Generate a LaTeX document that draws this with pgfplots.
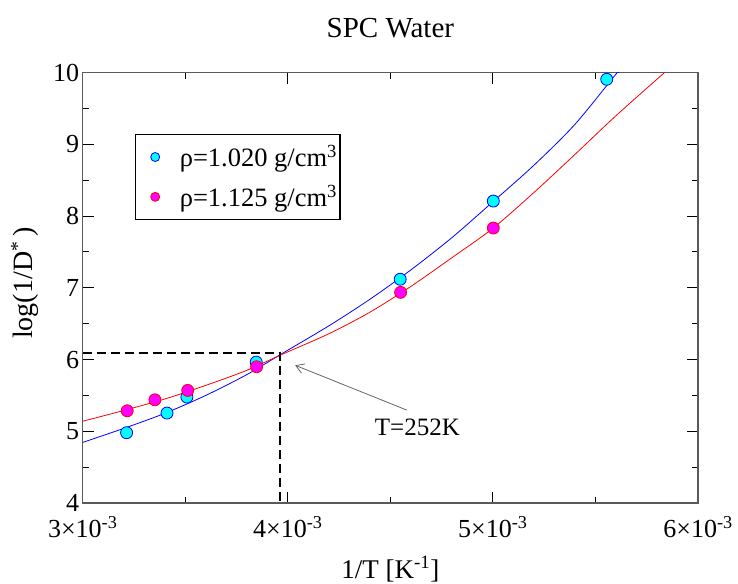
\documentclass[border=0pt]{standalone}
\usepackage{fontspec}
\setmainfont{Liberation Serif}
\usepackage{pgfplots}
\pgfplotsset{compat=1.18}
\usetikzlibrary{arrows.meta}
\definecolor{mycyan}{RGB}{0,255,255}
\definecolor{mymagenta}{RGB}{255,0,255}
\definecolor{myblue}{RGB}{0,0,255}
\definecolor{myred}{RGB}{255,0,0}
\begin{document}
\begin{tikzpicture}
\begin{axis}[
  scale only axis, width=615.3pt, height=430.3pt,
  xmin=0.003, xmax=0.006, ymin=4, ymax=10,
  xtick={0.003,0.004,0.005,0.006},
  xticklabels={3×10\textsuperscript{-3}, 4×10\textsuperscript{-3}, 5×10\textsuperscript{-3}, 6×10\textsuperscript{-3}},
  scaled x ticks=false,
  ytick={4,5,6,7,8,9,10},
  minor x tick num=1, minor y tick num=1,
  tick align=inside,
  major tick length=11pt, minor tick length=6.5pt,
  axis line style={black!65, line width=1.2pt},
  every tick/.style={black, line width=1pt},
  ticklabel style={font=\fontsize{26}{31}\selectfont},
  xticklabel style={yshift=-10pt},
  yticklabel style={/pgf/number format/assume math mode=true},
  legend style={at={(0.085,0.8575)}, anchor=north west, draw=black, line width=1.2pt,
    font=\fontsize{26.5}{31}\selectfont, row sep=13pt, inner xsep=1pt, inner ysep=9pt},
  legend cell align=left,
  legend image code/.code={%
    \draw[mark repeat=2,mark phase=2,#1,mark size=4.5pt] plot coordinates {(0pt,0pt) (18pt,0pt) (36pt,0pt)};
    \path (0pt,0pt) (40pt,0pt);},
  clip=true,
]
\coordinate (sw) at (rel axis cs:0,0);
\coordinate (ne) at (rel axis cs:1,1);
\coordinate (tt) at (rel axis cs:0.5,1);
\coordinate (bb) at (rel axis cs:0.5,0);
\coordinate (ll) at (rel axis cs:0,0.511);

% fit curves
\addplot[myblue, line width=0.8pt, smooth, forget plot] coordinates {
(0.0030,4.845) (0.0032,5.04) (0.0034,5.25) (0.0036,5.50) (0.0038,5.79)
(0.00397,6.08) (0.0042,6.47) (0.0044,6.84) (0.0046,7.25) (0.0048,7.70)
(0.0050,8.20) (0.0052,8.71) (0.0054,9.28) (0.0056,9.98) (0.00561,10.0)
};
\addplot[myred, line width=0.8pt, smooth, forget plot] coordinates {
(0.0030,5.14) (0.0032,5.29) (0.0034,5.45) (0.0036,5.64) (0.0038,5.85)
(0.00397,6.07) (0.0042,6.36) (0.0044,6.66) (0.0046,7.02) (0.0048,7.42)
(0.0050,7.83) (0.0052,8.33) (0.0054,8.86) (0.0056,9.40) (0.005836,10.0)
};

% dashed guide
\addplot[black, line width=2pt, dash pattern=on 9pt off 5pt, forget plot] coordinates {
(0.003,6.087) (0.003963,6.087) (0.003963,4)
};

% data
\addplot[only marks, mark=*, mark size=6pt, mark options={fill=mycyan, draw=myblue, line width=0.8pt}] coordinates {
(0.003214,4.98) (0.003411,5.254) (0.003508,5.477) (0.003846,5.965)
(0.004548,7.12) (0.005002,8.21) (0.005555,9.908)
};
\addlegendentry{ρ=1.020 g/cm\textsuperscript{3}}
\addplot[only marks, mark=*, mark size=6pt, mark options={fill=mymagenta, draw=myred, line width=0.8pt}] coordinates {
(0.003217,5.286) (0.003352,5.439) (0.003512,5.57) (0.003848,5.90)
(0.004550,6.937) (0.005002,7.834)
};
\addlegendentry{ρ=1.125 g/cm\textsuperscript{3}}

\draw[black!60, line width=0.8pt, -{Straight Barb[length=8pt, width=10pt]}] (axis cs:0.00458,5.296) -- (axis cs:0.004036,5.92);
\node[font=\fontsize{25}{30}\selectfont] at (axis cs:0.004632,5.052) {T=252K};
\end{axis}
\node[anchor=base, font=\fontsize{29}{35}\selectfont] at ([yshift=34.7pt]tt) {SPC Water};
\node[anchor=base, font=\fontsize{27}{32}\selectfont] at ([yshift=-75pt]bb) {1/T [K\textsuperscript{-1}]};
\node[anchor=base, rotate=90, font=\fontsize{28}{33}\selectfont] at ([xshift=-49.7pt]ll) {log(1/D\textsuperscript{*}\,)};
\pgfresetboundingbox
\path ([shift={(-82.7pt,-80pt)}]sw) rectangle ([shift={(40pt,72.7pt)}]ne);
\end{tikzpicture}
\end{document}
